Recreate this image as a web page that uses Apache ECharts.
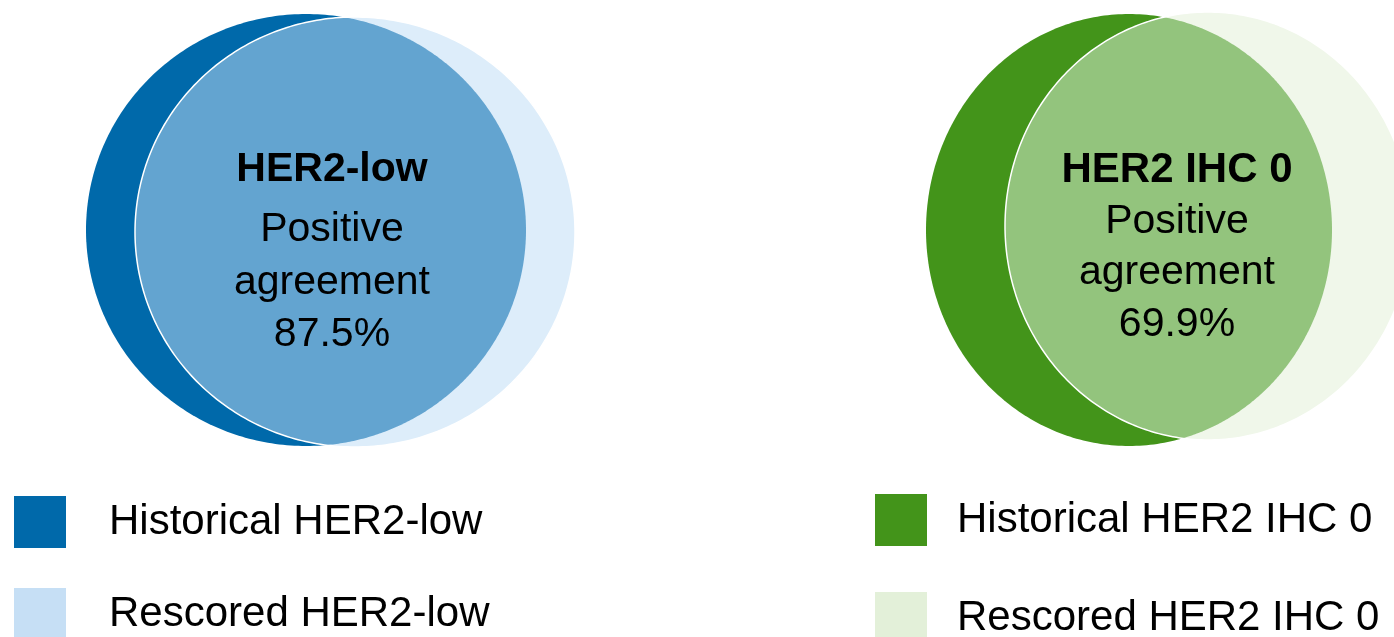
<!DOCTYPE html>
<html>
<head>
<meta charset="utf-8">
<title>HER2 positive agreement</title>
<script src="https://cdn.jsdelivr.net/npm/echarts@6/dist/echarts.min.js"></script>
<style>
  html, body { margin: 0; padding: 0; background: #ffffff; }
  #chart { width: 1394px; height: 637px; }
</style>
</head>
<body>
<div id="chart"></div>
<script>
// ---- data ----
const panels = ['HER2-low', 'HER2 IHC 0'];
const agreementPct = [87.5, 69.9];
const historicalNames = ['Historical HER2-low', 'Historical HER2 IHC 0'];
const rescoredNames = ['Rescored HER2-low', 'Rescored HER2 IHC 0'];
const agreementLines = ['Positive', 'agreement'];

// ---- styles ----
const palette = [
  { historical: '#0069AA', rescored: '#DDEDFA', overlap: '#63A4D0', legendRescored: '#C6DFF5' },
  { historical: '#43941A', rescored: '#F0F7EA', overlap: '#93C47D', legendRescored: '#E3F0D9' }
];
const FONT = '"Liberation Sans", Arial, Helvetica, sans-serif';

// ---- layout (pixels) ----
const layout = [
  {
    historical: { cx: 306, cy: 230, rx: 220, ry: 216 },
    rescored:   { cx: 355, cy: 232, rx: 220, ry: 215 },
    textX: 332, lineY: [170, 230, 283, 335], titleSize: 41,
    legend: { left: 14, rows: [496, 588], textPad: 38 }
  },
  {
    historical: { cx: 1129, cy: 230, rx: 203, ry: 216 },
    rescored:   { cx: 1208, cy: 226, rx: 203, ry: 214 },
    textX: 1177, lineY: [170, 222, 273, 325], titleSize: 42,
    legend: { left: 875, rows: [494, 592], textPad: 25 }
  }
];

function ellipsePoints(e, n) {
  n = n || 360;
  const pts = [];
  for (let i = 0; i < n; i++) {
    const t = (i / n) * Math.PI * 2;
    pts.push([e.cx + e.rx * Math.cos(t), e.cy + e.ry * Math.sin(t)]);
  }
  return pts;
}
function inside(e, p) {
  const dx = (p[0] - e.cx) / e.rx, dy = (p[1] - e.cy) / e.ry;
  return dx * dx + dy * dy <= 1;
}
// intersection of two ellipses as a convex polygon
function lensPoints(a, b) {
  const pts = ellipsePoints(a, 720).filter(p => inside(b, p))
    .concat(ellipsePoints(b, 720).filter(p => inside(a, p)));
  let mx = 0, my = 0;
  pts.forEach(p => { mx += p[0]; my += p[1]; });
  mx /= pts.length; my /= pts.length;
  pts.sort((p, q) => Math.atan2(p[1] - my, p[0] - mx) - Math.atan2(q[1] - my, q[0] - mx));
  return pts;
}

function ellipseSeries(name, panelIdx, key) {
  return {
    type: 'custom',
    name: name,
    coordinateSystem: 'none',
    silent: true,
    itemStyle: { color: palette[panelIdx][key] },
    data: [[panelIdx]],
    renderItem: function (params, api) {
      const idx = api.value(0);
      return {
        type: 'polygon',
        shape: { points: ellipsePoints(layout[idx][key]) },
        style: { fill: palette[idx][key] }
      };
    }
  };
}

const overlapSeries = {
  type: 'custom',
  name: 'Positive agreement',
  coordinateSystem: 'none',
  silent: true,
  data: agreementPct.map((v, i) => [i, v]),
  renderItem: function (params, api) {
    const idx = api.value(0);
    const pct = api.value(1);
    const L = layout[idx];
    const texts = [
      { t: panels[idx], bold: true },
      { t: agreementLines[0] },
      { t: agreementLines[1] },
      { t: pct.toFixed(1) + '%' }
    ];
    return {
      type: 'group',
      children: [
        {
          type: 'polygon',
          shape: { points: lensPoints(L.historical, L.rescored) },
          style: { fill: palette[idx].overlap }
        },
        {
          type: 'polygon',
          shape: { points: ellipsePoints(L.rescored) },
          style: { fill: null, stroke: '#ffffff', lineWidth: 1.5 }
        }
      ].concat(texts.map((d, k) => ({
        type: 'text',
        x: L.textX,
        y: L.lineY[k],
        style: {
          text: d.t,
          fill: '#000000',
          fontFamily: FONT,
          fontSize: d.bold ? L.titleSize : 41,
          fontWeight: d.bold ? 'bold' : 'normal',
          align: 'center',
          verticalAlign: 'middle'
        }
      })))
    };
  }
};

// one legend block per entry so each keeps its own row position
function legendEntry(idx, row, name, itemStyle) {
  const lg = layout[idx].legend;
  const entry = { name: name };
  if (itemStyle) entry.itemStyle = itemStyle;
  return {
    orient: 'vertical',
    left: lg.left,
    top: lg.rows[row],
    padding: 0,
    icon: 'rect',
    itemWidth: 52,
    itemHeight: 52,
    selectedMode: false,
    data: [entry],
    textStyle: { fontFamily: FONT, fontSize: 42, color: '#000000', padding: [0, 0, 0, lg.textPad] }
  };
}

const chart = echarts.init(document.getElementById('chart'), null, { renderer: 'canvas' });
chart.setOption({
  animation: false,
  backgroundColor: '#ffffff',
  legend: [
    legendEntry(0, 0, historicalNames[0]),
    legendEntry(0, 1, rescoredNames[0], { color: palette[0].legendRescored }),
    legendEntry(1, 0, historicalNames[1]),
    legendEntry(1, 1, rescoredNames[1], { color: palette[1].legendRescored })
  ],
  series: [
    ellipseSeries(historicalNames[0], 0, 'historical'),
    ellipseSeries(rescoredNames[0], 0, 'rescored'),
    ellipseSeries(historicalNames[1], 1, 'historical'),
    ellipseSeries(rescoredNames[1], 1, 'rescored'),
    overlapSeries
  ]
});
</script>
</body>
</html>
